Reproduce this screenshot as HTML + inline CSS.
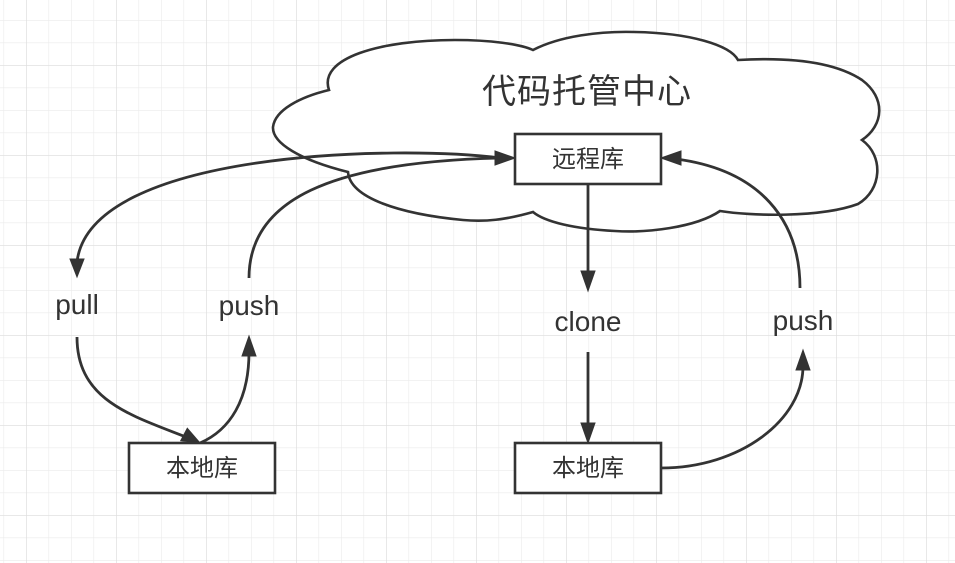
<!DOCTYPE html>
<html><head><meta charset="utf-8"><style>
html,body{margin:0;padding:0;background:#fff}
svg{display:block}
</style></head><body>
<svg width="955" height="563" viewBox="0 0 955 563" xmlns="http://www.w3.org/2000/svg">
<defs>
<pattern id="minor" width="22.5" height="22.5" patternUnits="userSpaceOnUse" x="3.5" y="-2.5">
<path d="M0 0H22.5M0 0V22.5" fill="none" stroke="#ebebeb" stroke-width="1.2"/>
</pattern>
<pattern id="major" width="90" height="90" patternUnits="userSpaceOnUse" x="26" y="65">
<path d="M0 0H90M0 0V90" fill="none" stroke="#dedede" stroke-width="1.3"/>
</pattern>
</defs>
<rect width="955" height="563" fill="url(#minor)"/>
<rect width="955" height="563" fill="url(#major)"/>

<path d="M329,90 C318,58 380,40 455,40 C490,40 520,44 533,50 C560,36 600,31 635,32 C690,33 730,45 738,60 C790,57 835,62 862,80 C886,98 884,125 862,140 C884,156 882,190 858,204 C820,218 750,216 720,211 C695,228 645,233 615,231 C575,229 545,222 533,212 C505,220 485,222 463,220 C400,214 350,198 348,172 C300,160 272,143 273,127 C275,110 300,97 329,90 Z" fill="#fff" stroke="#333" stroke-width="2.6"/>

<text x="587" y="103" font-family="'Liberation Sans','Noto Sans CJK SC',sans-serif" font-size="34" fill="#333" text-anchor="middle" letter-spacing="1">代码托管中心</text>

<g fill="none" stroke="#333" stroke-width="2.8">
<path d="M500,158 C400,145 90,150 77,262"/>
<path d="M249,278 C249,200 330,162 500,158"/>
<path d="M77,337 C77,400 130,415 186,437"/>
<path d="M200,443 C230,430 249,400 249,352"/>
<path d="M588,185 L588,275"/>
<path d="M588,352 L588,427"/>
<path d="M661,468 C740,468 803,420 803,366"/>
<path d="M800,288 C800,220 760,170 676,159"/>
</g>
<g fill="#333" stroke="#333" stroke-width="1">
<polygon points="77,277 70,259 84,259"/>
<polygon points="515,158 495,151 495,165"/>
<polygon points="200,443 180.7,440.7 187.3,428.3"/>
<polygon points="249,336 242,356 256,356"/>
<polygon points="588,291 581,271 595,271"/>
<polygon points="588,443 581,423 595,423"/>
<polygon points="803,350 796,370 810,370"/>
<polygon points="661,158 681,151 681,165"/>
</g>

<g fill="#fff" stroke="#333" stroke-width="2.6">
<rect x="515" y="134" width="146" height="50"/>
<rect x="129" y="443" width="146" height="50"/>
<rect x="515" y="443" width="146" height="50"/>
</g>
<g font-family="'Liberation Sans','Noto Sans CJK SC',sans-serif" font-size="24" fill="#333" text-anchor="middle">
<text x="588" y="167">远程库</text>
<text x="202" y="476">本地库</text>
<text x="588" y="476">本地库</text>
</g>
<g font-family="'Liberation Sans','Noto Sans CJK SC',sans-serif" font-size="28" fill="#333" text-anchor="middle">
<text x="77" y="314">pull</text>
<text x="249" y="315">push</text>
<text x="588" y="331">clone</text>
<text x="803" y="330">push</text>
</g>
</svg>
</body></html>
